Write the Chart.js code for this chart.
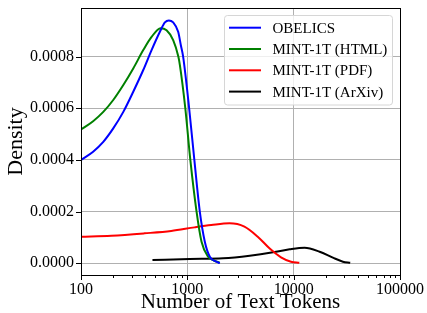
<!DOCTYPE html>
<html>
<head>
<meta charset="utf-8">
<script src="https://cdn.jsdelivr.net/npm/chart.js@4.4.1/dist/chart.umd.min.js"></script>
<style>
  html, body { margin: 0; padding: 0; background: #ffffff; }
  #wrap { width: 427px; height: 313px; }
</style>
</head>
<body>
<div id="wrap"><canvas id="density-chart" width="427" height="313"></canvas></div>
<script>
// series names and colours
var seriesNames = ['OBELICS', 'MINT-1T (HTML)', 'MINT-1T (PDF)', 'MINT-1T (ArXiv)']
var seriesColors = ['#0000ff', '#008000', '#ff0000', '#000000']

// OBELICS
var obelicsTokens = [100, 130, 162, 201, 250, 310, 385, 461, 552, 615, 670, 736, 820, 869, 913, 1040, 1164, 1310, 1460, 1627, 1880, 2020]
var obelicsDensity = [0.000400, 0.000432, 0.000470, 0.000522, 0.000586, 0.000664, 0.000748, 0.000825, 0.000896, 0.000932, 0.000940, 0.000932, 0.000896, 0.000844, 0.000800, 0.000600, 0.000400, 0.000200, 0.0000836, 0.0000255, 0.0000062, 0.0000005]

// MINT-1T (HTML)
var htmlTokens = [100, 130, 162, 201, 250, 310, 385, 461, 560, 638, 736, 823, 851, 957, 1067, 1221, 1360, 1568, 1774, 2020]
var htmlDensity = [0.000518, 0.000550, 0.000586, 0.000632, 0.000690, 0.000754, 0.000825, 0.000876, 0.000910, 0.000902, 0.000864, 0.000800, 0.000767, 0.000600, 0.000400, 0.000200, 0.0000836, 0.0000255, 0.0000108, 0.0000023]

// MINT-1T (PDF)
var pdfTokens = [100, 193, 396, 705, 1169, 1679, 2495, 3443, 4592, 5916, 7603, 9441, 11298]
var pdfDensity = [0.000103, 0.000107, 0.000116, 0.000125, 0.000139, 0.000148, 0.000155, 0.000142, 0.000103, 0.000058, 0.0000232, 0.0000062, 0.000002]

// MINT-1T (ArXiv)
var arxivTokens = [470, 1054, 2168, 3864, 6397, 9162, 12677, 17539, 23388, 29040, 34041]
var arxivDensity = [0.0000128, 0.0000166, 0.0000193, 0.0000294, 0.0000425, 0.0000542, 0.0000603, 0.0000449, 0.0000217, 0.0000062, 0.000002]

// axis ticks
var xTicks = [100, 1000, 10000, 100000]
var yTicks = [0, 0.0002, 0.0004, 0.0006, 0.0008]

var serif = "'Liberation Serif', 'Times New Roman', serif"

function toPoints(xs, ys) {
    return xs.map((x, i) => ({ x: x, y: ys[i] }))
}

var allTokens = [obelicsTokens, htmlTokens, pdfTokens, arxivTokens]
var allDensity = [obelicsDensity, htmlDensity, pdfDensity, arxivDensity]

var datasets = seriesNames.map((name, i) => ({
    label: name,
    data: toPoints(allTokens[i], allDensity[i]),
    borderColor: seriesColors[i],
    backgroundColor: seriesColors[i],
    borderWidth: 2,
    pointRadius: 0,
    showLine: true,
    fill: false,
    cubicInterpolationMode: 'monotone'
}))

// frame, tick marks and legend box like matplotlib
var framePlugin = {
    id: 'frame',
    afterDraw(chart) {
        var ctx = chart.ctx
        var a = chart.chartArea
        var xs = chart.scales.x
        var ys = chart.scales.y
        ctx.save()
        ctx.strokeStyle = '#000000'
        ctx.lineWidth = 1

        // x tick marks, major and minor
        ctx.beginPath()
        for (var d = 100; d < 100000; d *= 10) {
            for (var m = 1; m <= 9; m++) {
                var px = Math.round(xs.getPixelForValue(d * m)) + 0.5
                var len = m === 1 ? 5 : 3
                ctx.moveTo(px, a.bottom)
                ctx.lineTo(px, a.bottom + len)
            }
        }
        var pEnd = Math.round(xs.getPixelForValue(100000)) + 0.5
        ctx.moveTo(pEnd, a.bottom)
        ctx.lineTo(pEnd, a.bottom + 5)

        // y tick marks
        yTicks.forEach(v => {
            var py = Math.round(ys.getPixelForValue(v)) + 0.5
            ctx.moveTo(a.left - 5, py)
            ctx.lineTo(a.left, py)
        })
        ctx.stroke()

        // spines
        ctx.strokeRect(Math.round(a.left) + 0.5, Math.round(a.top) + 0.5,
            Math.round(a.right - a.left), Math.round(a.bottom - a.top))

        // legend
        var bx = 224.5, by = 15.5, bw = 168, bh = 89.5, r = 3
        ctx.beginPath()
        ctx.moveTo(bx + r, by)
        ctx.arcTo(bx + bw, by, bx + bw, by + bh, r)
        ctx.arcTo(bx + bw, by + bh, bx, by + bh, r)
        ctx.arcTo(bx, by + bh, bx, by, r)
        ctx.arcTo(bx, by, bx + bw, by, r)
        ctx.closePath()
        ctx.fillStyle = 'rgba(255,255,255,0.8)'
        ctx.fill()
        ctx.strokeStyle = '#d6d6d6'
        ctx.stroke()

        ctx.font = '15px ' + serif
        ctx.textBaseline = 'middle'
        ctx.textAlign = 'left'
        chart.data.datasets.forEach((ds, i) => {
            var ry = 27.7 + i * 21.3
            ctx.strokeStyle = ds.borderColor
            ctx.lineWidth = 2
            ctx.beginPath()
            ctx.moveTo(229, ry)
            ctx.lineTo(261, ry)
            ctx.stroke()
            ctx.fillStyle = '#000000'
            ctx.fillText(ds.label, 272.5, ry + 1)
        })
        ctx.restore()
    }
}

var ctxDensity = document.getElementById('density-chart').getContext('2d')

let densityChart = new Chart(ctxDensity, {
    type: 'scatter',
    data: { datasets: datasets },
    options: {
        responsive: false,
        animation: false,
        layout: { padding: { left: 0, right: 27, top: 8, bottom: 0 } },
        plugins: {
            legend: { display: false },
            tooltip: { enabled: false }
        },
        scales: {
            x: {
                type: 'logarithmic',
                min: 100,
                max: 100000,
                afterBuildTicks(scale) {
                    scale.ticks = xTicks.map(v => ({ value: v }))
                },
                afterFit(scale) {
                    scale.height = 38
                    scale.paddingLeft = 0
                    scale.paddingRight = 0
                },
                border: { display: false },
                grid: { color: '#b0b0b0', lineWidth: 1, drawTicks: false },
                ticks: {
                    color: '#000000',
                    padding: 5,
                    maxRotation: 0,
                    autoSkip: false,
                    font: { family: serif, size: 16 },
                    callback: v => String(v)
                },
                title: {
                    display: true,
                    text: 'Number of Text Tokens',
                    color: '#000000',
                    padding: { top: 0, bottom: -2 },
                    font: { family: serif, size: 21 }
                }
            },
            y: {
                min: -0.0000453,
                max: 0.000988,
                afterBuildTicks(scale) {
                    scale.ticks = yTicks.map(v => ({ value: v }))
                },
                afterFit(scale) {
                    scale.width = 81
                    scale.paddingTop = 0
                    scale.paddingBottom = 0
                },
                border: { display: false },
                grid: { color: '#b0b0b0', lineWidth: 1, drawTicks: false },
                ticks: {
                    color: '#000000',
                    padding: 7,
                    font: { family: serif, size: 16 },
                    callback: v => v.toFixed(4)
                },
                title: {
                    display: true,
                    text: 'Density',
                    color: '#000000',
                    padding: { top: 3, bottom: 0 },
                    font: { family: serif, size: 22 }
                }
            }
        }
    },
    plugins: [framePlugin]
})
</script>
</body>
</html>
